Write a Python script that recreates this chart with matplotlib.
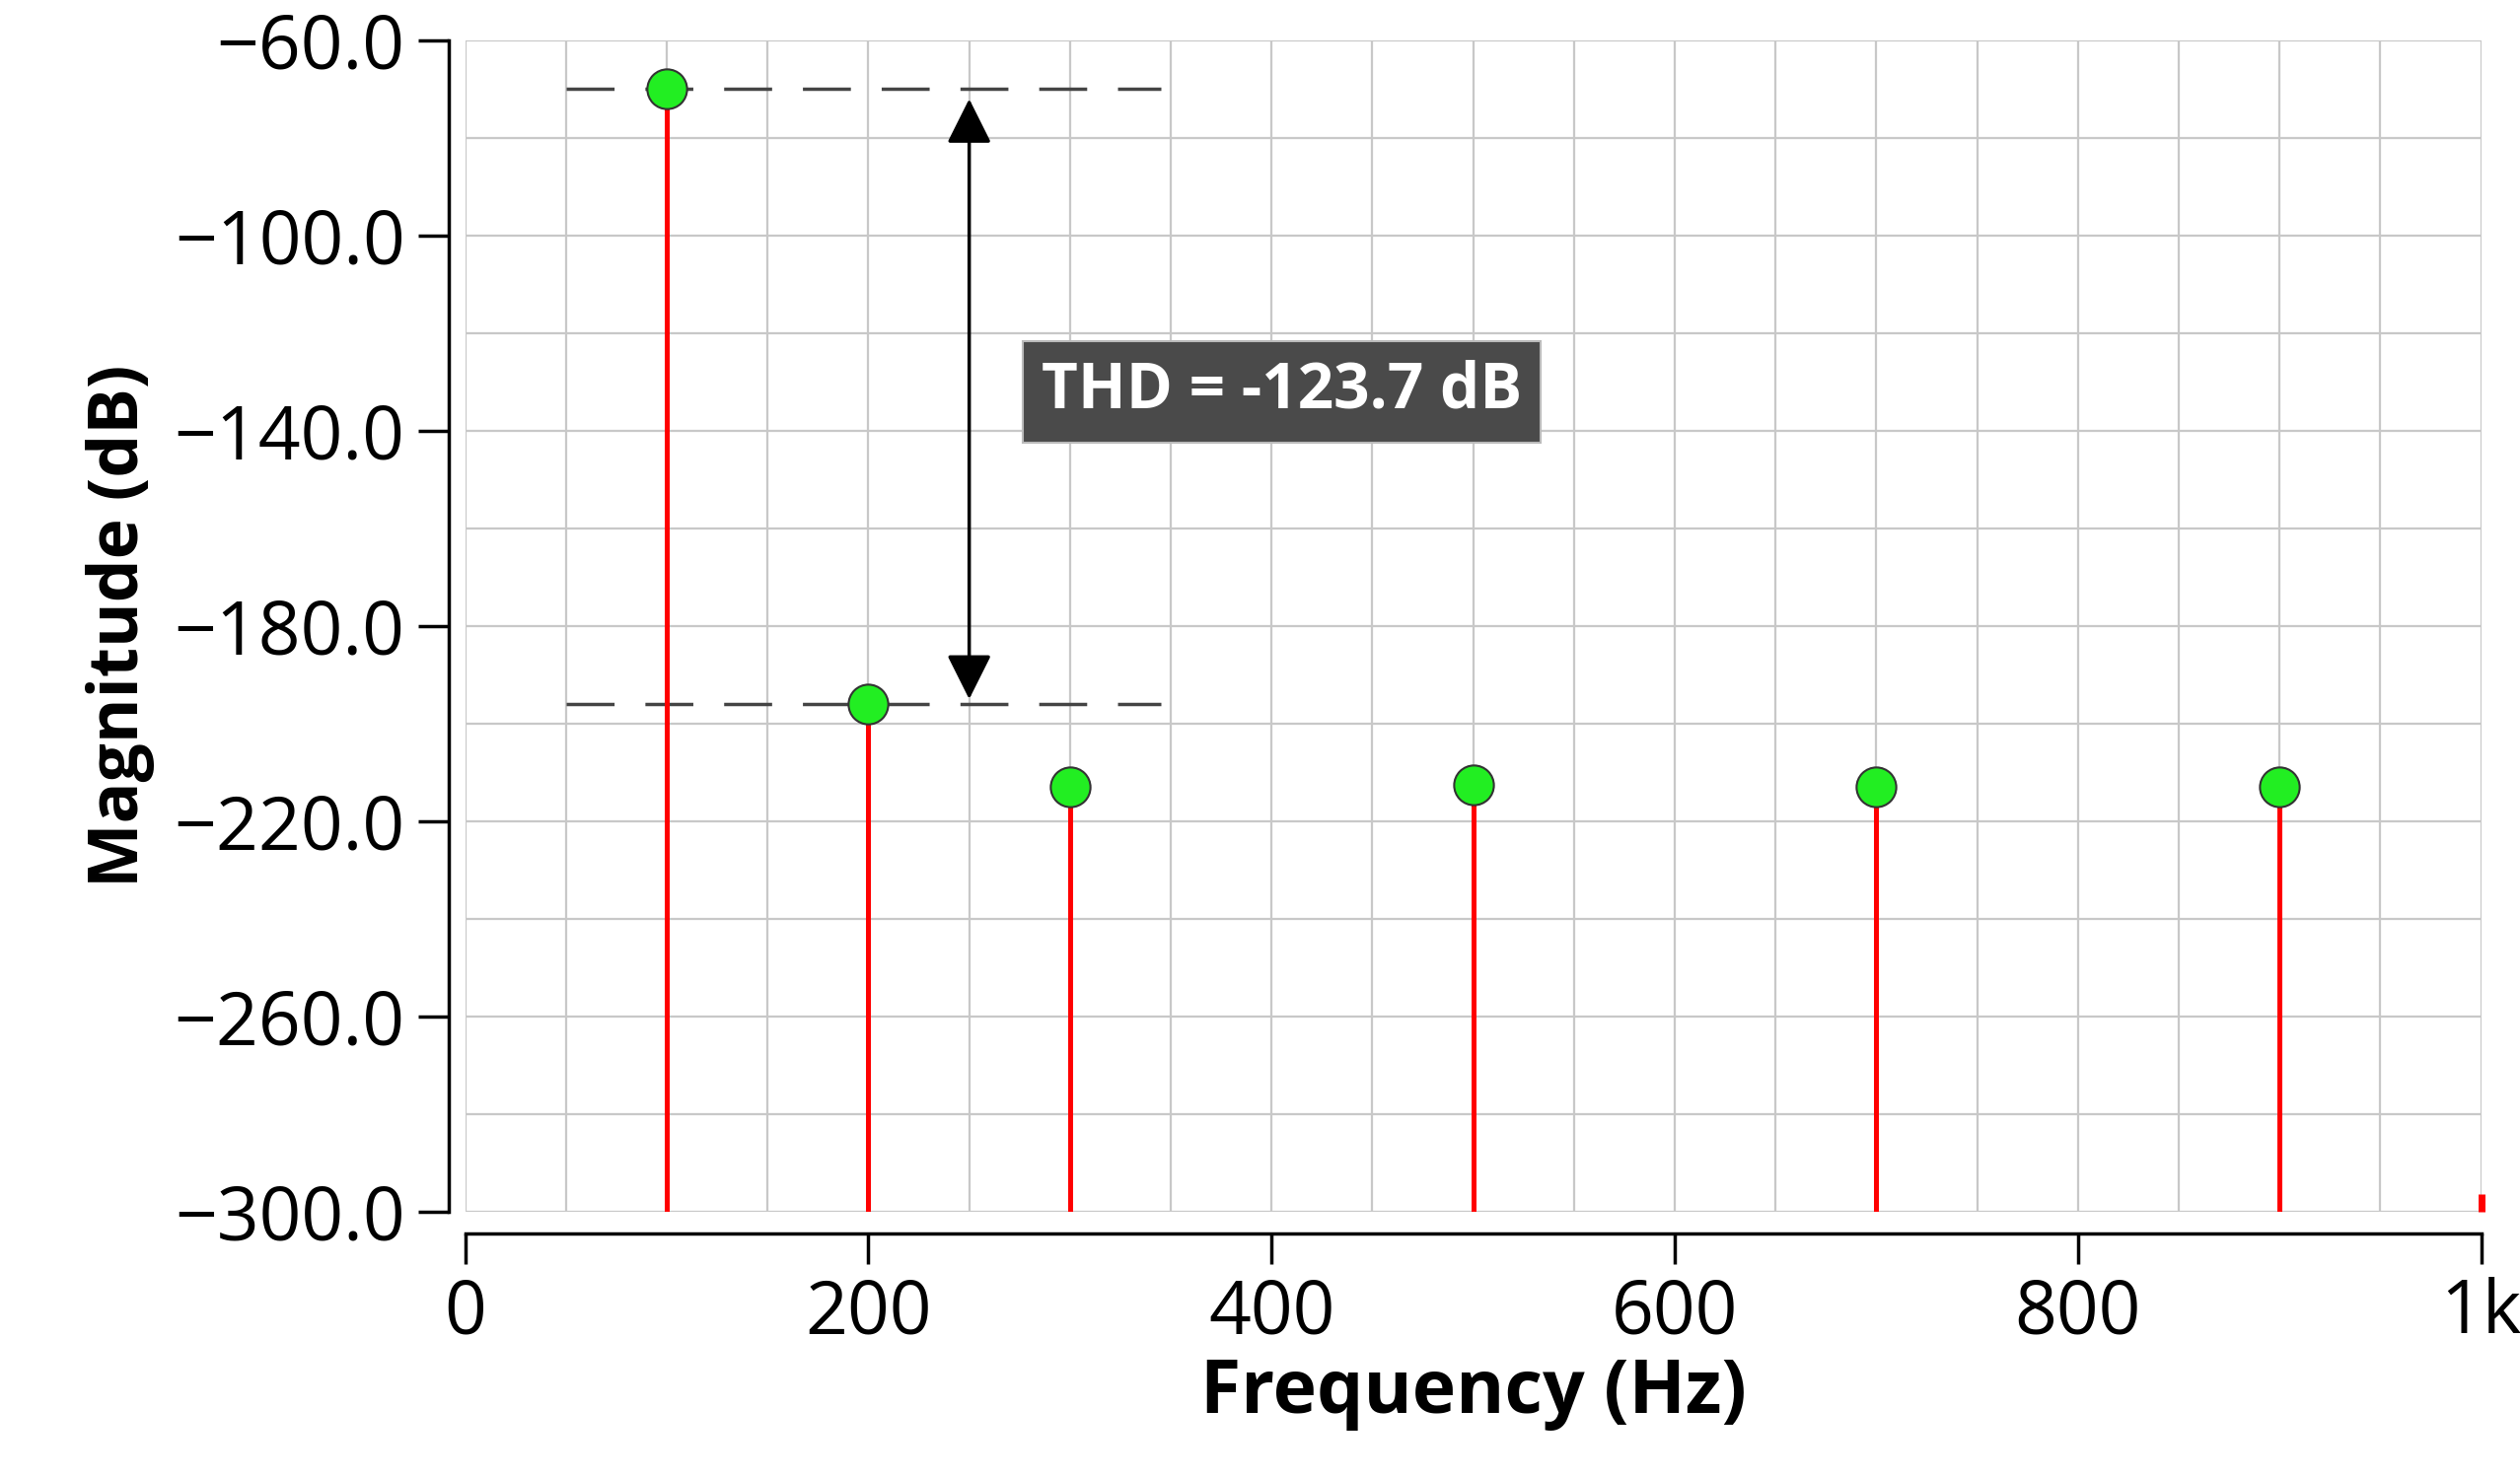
import matplotlib
matplotlib.use("Agg")
import matplotlib.pyplot as plt
from matplotlib.ticker import FixedLocator, MultipleLocator, FuncFormatter

freqs = [100, 200, 300, 500, 700, 900]
mags = [-70.0, -196.0, -213.0, -212.5, -213.0, -213.0]
edge_freq = 1000
edge_mag = -296.5
fund_level = -70.0
h2_level = -196.0
y_ticks = [-300, -260, -220, -180, -140, -100, -60]
thd_label = "THD = -123.7 dB"

plt.rcParams["font.family"] = ["Open Sans", "DejaVu Sans"]

fig = plt.figure(figsize=(25.55, 14.99), dpi=100)
ax = fig.add_axes([0.1846, 0.1803, 0.8, 0.7924])
ax.set_xlim(0, 1000)
ax.set_ylim(-300, -60)

ax.xaxis.set_major_locator(MultipleLocator(200))
ax.xaxis.set_minor_locator(MultipleLocator(50))
ax.yaxis.set_major_locator(FixedLocator(y_ticks))
ax.yaxis.set_minor_locator(MultipleLocator(20))
ax.grid(which="both", color="#c8c8c8", lw=1.6)
ax.tick_params(which="minor", length=0)
ax.tick_params(which="major", length=22, width=2.5, labelsize=54, pad=10)
for lab in ax.get_xticklabels() + ax.get_yticklabels():
    lab.set_fontweight("bold")
ax.xaxis.set_major_formatter(FuncFormatter(lambda v, p: "1k" if v >= 1000 else f"{v:.0f}"))
ax.yaxis.set_major_formatter(FuncFormatter(lambda v, p: f"{v:.1f}".replace("-", "\u2212")))

for s in ("top", "right"):
    ax.spines[s].set_visible(False)
ax.spines["left"].set_position(("outward", 12))
ax.spines["bottom"].set_position(("outward", 16))
ax.spines["left"].set_linewidth(2.5)
ax.spines["bottom"].set_linewidth(2.5)

ax.vlines(freqs, -300, mags, color="red", lw=3.6, zorder=3)
ax.vlines([edge_freq], -300, edge_mag, color="red", lw=5, zorder=3, clip_on=False)
ax.plot(freqs, mags, "o", ms=29, mfc="#22ee22", mec="#333333", mew=1.5, zorder=4)

for lvl in (fund_level, h2_level):
    ax.plot([50, 345], [lvl, lvl], color="#444444", lw=2.5, dashes=(14, 9), zorder=2)
ax.annotate("", xy=(250, fund_level - 2), xytext=(250, h2_level + 1),
            arrowprops=dict(arrowstyle="<|-|>", color="black", lw=2.5,
                            mutation_scale=70, shrinkA=0, shrinkB=0), zorder=5)
ax.text(405, -132, thd_label, fontsize=46, color="white", ha="center", va="center",
        fontweight="bold", zorder=6,
        bbox=dict(boxstyle="square,pad=0.3", fc="#4a4a4a", ec="#bbbbbb", lw=1.5))

ax.set_xlabel("Frequency (Hz)", fontsize=54, fontweight="bold", labelpad=4)
ax.set_ylabel("Magnitude (dB)", fontsize=50, fontweight="bold", labelpad=14)

fig.savefig("out.png", dpi=100)
